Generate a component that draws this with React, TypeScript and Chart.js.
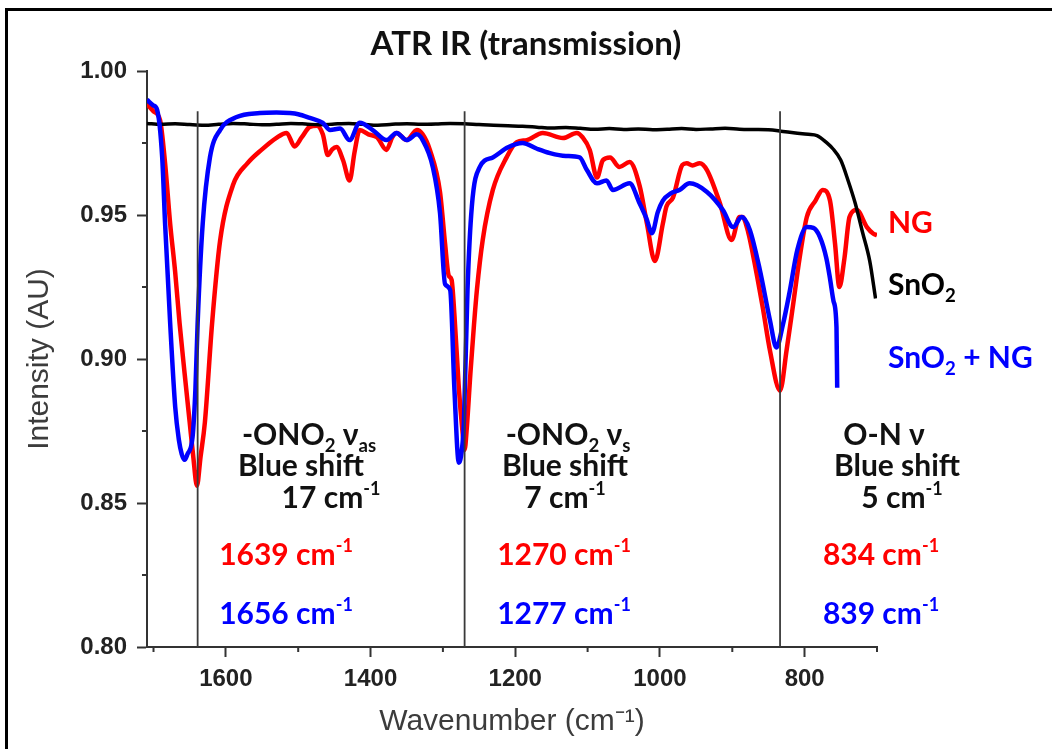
import React, { useEffect, useRef } from 'react';
import { Chart, registerables } from 'chart.js';

Chart.register(...registerables);

// ---------- data ----------
const chartTitle = 'ATR IR (transmission)';
const xAxisTitle = 'Wavenumber (cm\u207B\u00B9)';
const yAxisTitle = 'Intensity (AU)';

const xMin = 700;
const xMax = 1709;
const yMin = 0.8;
const yMax = 1.0;

const xTicks = [1600, 1400, 1200, 1000, 800];
const xMinorTicks = [1700, 1500, 1300, 1100, 900, 700];
const yTicks = [0.8, 0.85, 0.9, 0.95, 1.0];
const yMinorTicks = [0.825, 0.875, 0.925, 0.975];

const markerWavenumbers = [1639, 1270, 834];
const markerTop = 0.986;

// SnO2 (black)
const sno2Wn = [1709, 1690, 1670, 1650, 1630, 1610, 1590, 1570, 1550, 1530, 1510, 1490, 1470, 1450, 1430, 1410, 1390, 1370, 1350, 1330, 1310, 1290, 1270, 1250, 1230, 1210, 1190, 1170, 1150, 1130, 1110, 1090, 1070, 1050, 1030, 1010, 990, 970, 950, 930, 910, 890, 870, 850, 830, 810, 795, 783, 770, 761, 750, 740, 730, 720, 710, 702];
const sno2Val = [0.9818, 0.9815, 0.9817, 0.9814, 0.9812, 0.9815, 0.9818, 0.9816, 0.9813, 0.9815, 0.9818, 0.9816, 0.9813, 0.9816, 0.9818, 0.9815, 0.9812, 0.9815, 0.9817, 0.9815, 0.9816, 0.9818, 0.9817, 0.9814, 0.9812, 0.981, 0.9808, 0.9805, 0.9802, 0.9804, 0.9801, 0.9798, 0.98, 0.9797, 0.9799, 0.9796, 0.9798, 0.98, 0.9797, 0.9799, 0.9801, 0.9798, 0.9797, 0.9796, 0.979, 0.9784, 0.978, 0.9776, 0.9752, 0.973, 0.969, 0.962, 0.954, 0.944, 0.934, 0.921];

// NG (red)
const ngWn = [1709, 1700, 1691, 1684, 1677, 1670, 1664, 1657, 1650, 1645, 1640, 1635, 1629, 1619, 1608, 1590, 1570, 1550, 1530, 1516, 1505, 1495, 1484, 1474, 1466, 1459, 1453, 1447, 1438, 1429, 1422, 1415, 1403, 1391, 1378, 1370, 1364, 1350, 1336, 1328, 1318, 1304, 1297, 1292, 1288, 1284, 1278, 1273, 1270, 1267, 1262, 1257, 1253, 1245, 1231, 1212, 1198, 1184, 1162, 1134, 1115, 1107, 1097, 1087, 1079, 1069, 1056, 1042, 1028, 1018, 1007, 996, 991, 982, 969, 963, 955, 945, 935, 917, 901, 890, 886, 878, 872, 858, 848, 834, 825, 817, 807, 797, 785, 775, 765, 758, 752, 745, 738, 728, 714, 705, 700];
const ngVal = [0.9885, 0.986, 0.983, 0.968, 0.947, 0.93, 0.9125, 0.895, 0.878, 0.866, 0.856, 0.866, 0.878, 0.9125, 0.941, 0.9605, 0.968, 0.9728, 0.9768, 0.9785, 0.9738, 0.977, 0.9806, 0.981, 0.978, 0.9708, 0.9728, 0.9736, 0.969, 0.962, 0.972, 0.9795, 0.978, 0.977, 0.9726, 0.977, 0.9785, 0.976, 0.9795, 0.978, 0.9726, 0.958, 0.94, 0.929, 0.9275, 0.915, 0.89, 0.875, 0.8685, 0.876, 0.895, 0.912, 0.924, 0.9413, 0.9587, 0.97, 0.9753, 0.976, 0.9785, 0.9767, 0.9785, 0.977, 0.9726, 0.963, 0.969, 0.97, 0.9667, 0.9684, 0.96, 0.947, 0.934, 0.947, 0.953, 0.956, 0.9674, 0.968, 0.9672, 0.968, 0.9656, 0.954, 0.9413, 0.9493, 0.9493, 0.944, 0.937, 0.918, 0.903, 0.889, 0.903, 0.917, 0.935, 0.9493, 0.955, 0.9587, 0.955, 0.94, 0.925, 0.935, 0.9493, 0.9517, 0.9458, 0.9435, 0.943];

// SnO2 + NG (blue)
const mixWn = [1709, 1700, 1695, 1688, 1684, 1677, 1670, 1665, 1661, 1657, 1653, 1646, 1642, 1639, 1632, 1622, 1608, 1585, 1553, 1530, 1512, 1500, 1484, 1466, 1456, 1442, 1429, 1415, 1397, 1378, 1364, 1350, 1336, 1328, 1314, 1304, 1297, 1290, 1284, 1278, 1274, 1271, 1266, 1260, 1249, 1231, 1210, 1190, 1170, 1152, 1130, 1111, 1101, 1087, 1074, 1065, 1042, 1028, 1019, 1011, 1003, 996, 985, 973, 959, 935, 913, 899, 887, 876, 862, 848, 839, 830, 821, 810, 797, 788, 779, 770, 765, 760, 756, 755];
const mixVal = [0.99, 0.988, 0.9865, 0.97, 0.947, 0.9125, 0.8833, 0.872, 0.867, 0.865, 0.867, 0.873, 0.89, 0.9125, 0.947, 0.97, 0.9795, 0.984, 0.9854, 0.9856, 0.9854, 0.985, 0.9837, 0.982, 0.9795, 0.98, 0.976, 0.982, 0.9795, 0.976, 0.9785, 0.976, 0.978, 0.976, 0.9667, 0.9507, 0.926, 0.924, 0.889, 0.864, 0.868, 0.878, 0.924, 0.953, 0.9667, 0.97, 0.9735, 0.975, 0.973, 0.9715, 0.9705, 0.97, 0.9656, 0.961, 0.962, 0.9587, 0.961, 0.954, 0.949, 0.9437, 0.951, 0.955, 0.9575, 0.9587, 0.961, 0.958, 0.9517, 0.9458, 0.9493, 0.945, 0.931, 0.9135, 0.904, 0.912, 0.923, 0.938, 0.9458, 0.9455, 0.9424, 0.935, 0.928, 0.92, 0.911, 0.89];

const seriesNames = ['NG', 'SnO2', 'SnO2 + NG'];
const seriesColors = ['#ff0000', '#000000', '#0000ff'];

// ---------- helpers ----------
const toPoints = (xs: number[], ys: number[]) => xs.map((x, i) => ({ x, y: ys[i] }));

const minorTicksPlugin = {
  id: 'minorTicks',
  afterDraw(chart: any) {
    const { ctx, scales } = chart;
    const xs = scales.x;
    const ys = scales.y;
    ctx.save();
    ctx.strokeStyle = '#333';
    ctx.lineWidth = 2;
    ctx.beginPath();
    xMinorTicks.forEach((v) => {
      const px = xs.getPixelForValue(v);
      ctx.moveTo(px, ys.bottom);
      ctx.lineTo(px, ys.bottom + 5);
    });
    yMinorTicks.forEach((v) => {
      const py = ys.getPixelForValue(v);
      ctx.moveTo(xs.left - 5, py);
      ctx.lineTo(xs.left, py);
    });
    ctx.stroke();
    ctx.restore();
  },
};

const LABEL_FONT = "Lato, 'Noto Sans', sans-serif";
const AXIS_FONT = "'Liberation Sans', Arial, sans-serif";

const Sup = ({ children }: { children: any }) => (
  <span style={{ fontSize: '0.6em', position: 'relative', top: '-0.75em' }}>{children}</span>
);
const Sub = ({ children }: { children: any }) => (
  <span style={{ fontSize: '0.62em', position: 'relative', top: '0.35em' }}>{children}</span>
);

type TL = { cx?: number; left?: number; cy: number; color: string; content: any };

const Txt = ({ t }: { t: TL }) => {
  const style: any = {
    position: 'absolute',
    top: t.cy - 16,
    fontFamily: LABEL_FONT,
    fontWeight: 700,
    fontSize: 30,
    lineHeight: '30px',
    color: t.color,
    whiteSpace: 'nowrap',
  };
  if (t.cx !== undefined) {
    style.left = t.cx;
    style.transform = 'translateX(-50%)';
  } else {
    style.left = t.left;
  }
  return <div style={style}>{t.content}</div>;
};

const cm = (n: string) => (
  <>
    {n} cm<Sup>-1</Sup>
  </>
);

const textLines: TL[] = [
  { cx: 309, cy: 434, color: '#111', content: <>-ONO<Sub>2</Sub> ν<Sub>as</Sub></> },
  { cx: 301, cy: 465, color: '#111', content: 'Blue shift' },
  { cx: 331, cy: 497, color: '#111', content: cm('17') },
  { cx: 286, cy: 554, color: '#ff0000', content: cm('1639') },
  { cx: 286, cy: 613, color: '#0000ff', content: cm('1656') },
  { cx: 568, cy: 434, color: '#111', content: <>-ONO<Sub>2</Sub> ν<Sub>s</Sub></> },
  { cx: 565, cy: 465, color: '#111', content: 'Blue shift' },
  { cx: 565, cy: 497, color: '#111', content: cm('7') },
  { cx: 564, cy: 554, color: '#ff0000', content: cm('1270') },
  { cx: 564, cy: 613, color: '#0000ff', content: cm('1277') },
  { cx: 884, cy: 434, color: '#111', content: <>O-N ν</> },
  { cx: 897, cy: 465, color: '#111', content: 'Blue shift' },
  { cx: 902, cy: 497, color: '#111', content: cm('5') },
  { cx: 881, cy: 554, color: '#ff0000', content: cm('834') },
  { cx: 881, cy: 613, color: '#0000ff', content: cm('839') },
  { left: 888, cy: 222, color: seriesColors[0], content: seriesNames[0] },
  { left: 888, cy: 284, color: seriesColors[1], content: <>SnO<Sub>2</Sub></> },
  { left: 888, cy: 357, color: seriesColors[2], content: <>SnO<Sub>2</Sub> + NG</> },
];

export default function App() {
  const canvasRef = useRef<HTMLCanvasElement | null>(null);

  useEffect(() => {
    const canvas = canvasRef.current;
    if (!canvas) return;

    const markerSets = markerWavenumbers.map((w) => ({
      label: 'marker ' + w,
      data: [
        { x: w, y: yMin },
        { x: w, y: markerTop },
      ],
      borderColor: '#3a3a3a',
      borderWidth: 1.8,
      pointRadius: 0,
      order: 0,
    }));

    const chart = new Chart(canvas, {
      type: 'line',
      data: {
        datasets: [
          ...markerSets,
          {
            label: seriesNames[2],
            data: toPoints(mixWn, mixVal),
            borderColor: seriesColors[2],
            borderWidth: 4.5,
            pointRadius: 0,
            cubicInterpolationMode: 'monotone',
            order: 1,
          },
          {
            label: seriesNames[1],
            data: toPoints(sno2Wn, sno2Val),
            borderColor: seriesColors[1],
            borderWidth: 3.5,
            pointRadius: 0,
            cubicInterpolationMode: 'monotone',
            order: 2,
          },
          {
            label: seriesNames[0],
            data: toPoints(ngWn, ngVal),
            borderColor: seriesColors[0],
            borderWidth: 4.5,
            pointRadius: 0,
            cubicInterpolationMode: 'monotone',
            order: 3,
          },
        ],
      } as any,
      options: {
        responsive: false,
        animation: false,
        devicePixelRatio: 1,
        layout: { padding: { left: 0, right: 0, top: 25, bottom: 0 } },
        plugins: {
          legend: { display: false },
          tooltip: { enabled: false },
          title: {
            display: true,
            text: chartTitle,
            color: '#111',
            font: { family: LABEL_FONT, size: 33, weight: 'bold' },
            padding: { top: 0, bottom: 6.4 },
          },
        },
        scales: {
          x: {
            type: 'linear',
            reverse: true,
            min: xMin,
            max: xMax,
            afterBuildTicks: (scale: any) => {
              scale.ticks = xTicks.map((v) => ({ value: v }));
            },
            afterFit: (scale: any) => {
              scale.height = 102;
            },
            border: { display: true, color: '#333', width: 2 },
            grid: {
              display: true,
              drawOnChartArea: false,
              drawTicks: true,
              tickLength: 10,
              tickWidth: 2,
              tickColor: '#333',
            },
            ticks: {
              color: '#222',
              padding: 8,
              font: { family: AXIS_FONT, size: 24, weight: 'bold' },
              callback: (v: any) => String(v),
              maxRotation: 0,
            },
            title: {
              display: true,
              text: xAxisTitle,
              color: '#3c3c3c',
              font: { family: AXIS_FONT, size: 30 },
              padding: { top: 0, bottom: 9 },
            },
          },
          y: {
            type: 'linear',
            min: yMin,
            max: yMax,
            afterBuildTicks: (scale: any) => {
              scale.ticks = yTicks.map((v) => ({ value: v }));
            },
            afterFit: (scale: any) => {
              scale.width = 147;
            },
            border: { display: true, color: '#333', width: 2 },
            grid: {
              display: true,
              drawOnChartArea: false,
              drawTicks: true,
              tickLength: 10,
              tickWidth: 2,
              tickColor: '#333',
            },
            ticks: {
              color: '#222',
              padding: 10,
              font: { family: AXIS_FONT, size: 24, weight: 'bold' },
              callback: (v: any) => Number(v).toFixed(2),
            },
            title: {
              display: true,
              text: yAxisTitle,
              color: '#3c3c3c',
              font: { family: AXIS_FONT, size: 30 },
              padding: { top: 22, bottom: 0 },
            },
          },
          rightSpace: {
            type: 'linear',
            position: 'right',
            display: true,
            min: 0,
            max: 1,
            afterFit: (scale: any) => {
              scale.width = 175;
            },
            border: { display: false },
            grid: { display: false },
            ticks: { display: false },
          },
        },
      } as any,
      plugins: [minorTicksPlugin],
    });

    return () => chart.destroy();
  }, []);

  return (
    <div
      style={{
        position: 'fixed',
        left: 0,
        top: 0,
        width: 1052,
        height: 749,
        background: '#fff',
        overflow: 'hidden',
      }}
    >
      <canvas
        ref={canvasRef}
        width={1052}
        height={749}
        style={{ position: 'absolute', left: 0, top: 0, width: 1052, height: 749 }}
      />
      <div
        style={{
          position: 'absolute',
          left: 5,
          top: 8,
          width: 1052,
          height: 749,
          borderLeft: '3px solid #000',
          borderTop: '3px solid #000',
          boxSizing: 'border-box',
          pointerEvents: 'none',
        }}
      />
      {textLines.map((t, i) => (
        <Txt key={i} t={t} />
      ))}
    </div>
  );
}
